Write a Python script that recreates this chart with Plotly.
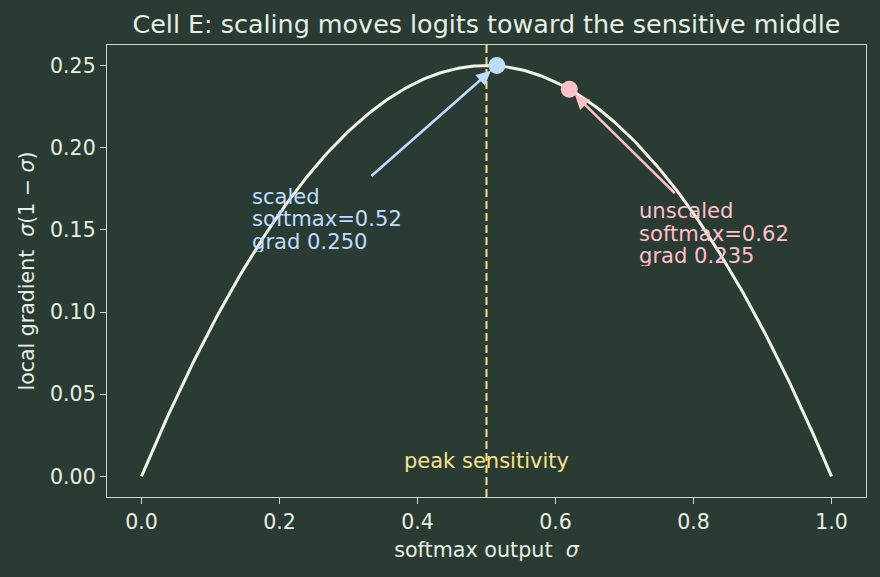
import numpy as np
import plotly.graph_objects as go

sigma = np.linspace(0, 1, 300)
grad = sigma * (1 - sigma)

scaled_sm = 0.515
scaled_grad = 0.250
unscaled_sm = 0.62
unscaled_grad = 0.2356
peak_x = 0.5

scaled_lines = ["scaled", "softmax=0.52", "grad 0.250"]
unscaled_lines = ["unscaled", "softmax=0.62", "grad 0.235"]

x_ticks = [0.0, 0.2, 0.4, 0.6, 0.8, 1.0]
y_ticks = [0.00, 0.05, 0.10, 0.15, 0.20, 0.25]

BG = "#2a3b33"
FG = "#e8efe4"
CURVE = "#f2f5e6"
BLUE = "#bfdeff"
PINK = "#ffc0cb"
YEL = "#f5e28c"
FONT = "DejaVu Sans"
FS = 21.1

fig = go.Figure()
fig.add_trace(go.Scatter(x=sigma, y=grad, mode="lines",
                         line=dict(color=CURVE, width=3), hoverinfo="skip"))
fig.add_shape(type="line", x0=peak_x, x1=peak_x, y0=0, y1=1, yref="paper",
              line=dict(color=YEL, width=2, dash="8px,4px"))
fig.add_trace(go.Scatter(x=[scaled_sm], y=[scaled_grad], mode="markers",
                         marker=dict(color=BLUE, size=17)))
fig.add_trace(go.Scatter(x=[unscaled_sm], y=[unscaled_grad], mode="markers",
                         marker=dict(color=PINK, size=17)))

fig.add_annotation(x=scaled_sm, y=scaled_grad, ax=0.331, ay=0.182,
                   xref="x", yref="y", axref="x", ayref="y", text="",
                   showarrow=True, arrowhead=2, arrowsize=1.1, arrowwidth=2.6,
                   arrowcolor=BLUE, standoff=8)
fig.add_annotation(x=unscaled_sm, y=unscaled_grad, ax=0.775, ay=0.1715,
                   xref="x", yref="y", axref="x", ayref="y", text="",
                   showarrow=True, arrowhead=2, arrowsize=1.1, arrowwidth=2.6,
                   arrowcolor=PINK, standoff=8)

LS = 22.5
for i, line in enumerate(scaled_lines):
    fig.add_annotation(x=0.158, y=0.157, xref="x", yref="y", xanchor="left", yanchor="middle",
                       yshift=(1 - i) * LS, showarrow=False, text=line, height=22,
                       borderpad=0, valign="middle",
                       font=dict(family=FONT, size=FS, color=BLUE))
for i, line in enumerate(unscaled_lines):
    fig.add_annotation(x=0.719, y=0.1483, xref="x", yref="y", xanchor="left", yanchor="middle",
                       yshift=(1 - i) * LS, showarrow=False, text=line, height=22,
                       borderpad=0, valign="middle",
                       font=dict(family=FONT, size=FS, color=PINK))

fig.add_annotation(x=peak_x, y=0.0093, xref="x", yref="y", xanchor="center", yanchor="middle",
                   showarrow=False, text="peak sensitivity",
                   font=dict(family=FONT, size=21, color=YEL))

axis_common = dict(showgrid=False, zeroline=False, showline=True, mirror=True,
                   linecolor="#cfd8cc", linewidth=1.4, ticks="outside", ticklen=6,
                   tickwidth=1.4, tickcolor="#cfd8cc",
                   tickfont=dict(family=FONT, size=20.5, color=FG))

fig.update_layout(
    width=880, height=577,
    paper_bgcolor=BG, plot_bgcolor=BG,
    margin=dict(l=107, r=14, t=45, b=80),
    showlegend=False,
    title=dict(text="Cell E: scaling moves logits toward the sensitive middle",
               x=(107 + 866) / 2 / 880, xanchor="center", y=1 - 24 / 577, yanchor="middle",
               font=dict(family=FONT, size=25.4, color=FG)),
    xaxis=dict(range=[-0.05, 1.05], tickvals=x_ticks,
               ticktext=[f"{v:.1f}" for v in x_ticks],
               title=dict(text="softmax output  <i>σ</i>", standoff=9,
                          font=dict(family=FONT, size=20.7, color=FG)),
               **axis_common),
    yaxis=dict(range=[-0.0125, 0.2625], tickvals=y_ticks,
               ticktext=[f"{v:.2f}" for v in y_ticks],
               title=dict(text="local gradient  <i>σ</i>(1 − <i>σ</i>)", standoff=9,
                          font=dict(family=FONT, size=20.5, color=FG)),
               **axis_common),
)

fig.write_html("out.html")
